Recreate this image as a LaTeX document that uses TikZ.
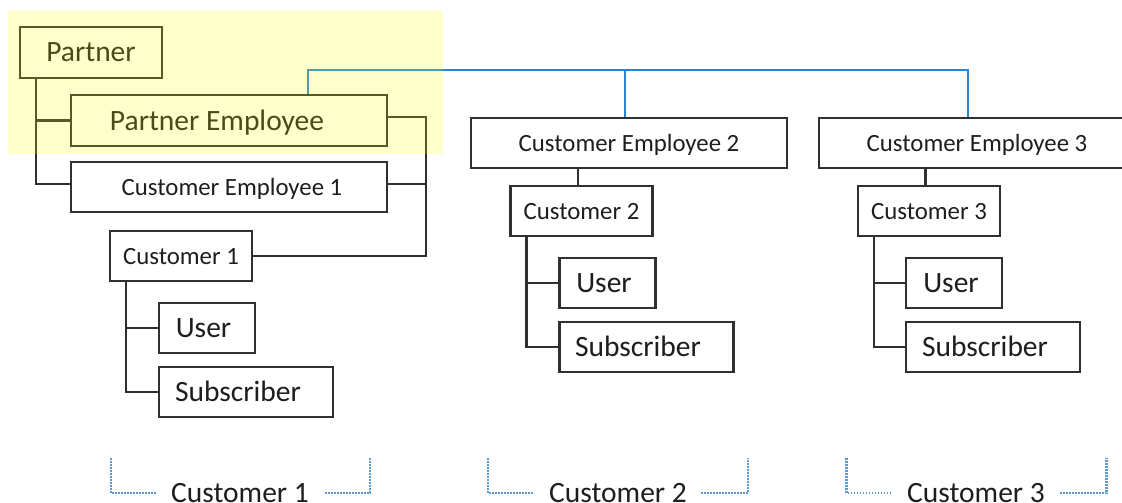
\documentclass[tikz,border=0pt]{standalone}
\usepackage{fontspec}
\setmainfont{Carlito}
\definecolor{linegray}{HTML}{303030}
\definecolor{busblue}{HTML}{2A84D0}
\definecolor{dotblue}{HTML}{5B9BD5}
\definecolor{txt}{HTML}{1E1E1E}
\definecolor{hilite}{HTML}{FFFF00}
\begin{document}
\begin{tikzpicture}[x=1pt,y=-1pt,
  box/.style={draw=linegray, line width=2.2pt, fill=white, inner sep=0pt, minimum height=50pt},
  big/.style={font=\fontsize{29.5}{34}\selectfont, text=txt, inner sep=0pt, text height=19pt, text depth=0pt},
  small/.style={font=\fontsize{24.8}{29}\selectfont, text=txt, inner sep=0pt, text height=16pt, text depth=0pt},
  conn/.style={draw=linegray, line width=2.2pt},
  bus/.style={draw=busblue, line width=2.4pt},
  bracket/.style={draw=dotblue, line width=2.2pt, dash pattern=on 1.6pt off 1.4pt},
  hl/.style={fill=hilite, fill opacity=0.2}
]
\useasboundingbox (0,0) rectangle (1122,503);
\clip (0,0) rectangle (1122,503);
\fill[white] (0,0) rectangle (1122,503);

% ---- boxes, column 1
\node[box, minimum width=142pt, minimum height=51pt, label={[big]center:Partner}] (partner) at (91,52.5) {};
\node[box, minimum width=316pt, minimum height=51pt, label={[big,xshift=-12pt]center:Partner Employee}] (pe) at (229,120.5) {};
\node[box, minimum width=316pt, label={[small,xshift=3pt]center:Customer Employee 1}] (ce1) at (229,187) {};
\node[box, minimum width=142pt, label={[small]center:Customer 1}] (c1) at (181,256) {};
\node[box, minimum width=96pt, label={[big,xshift=-3.5pt]center:User}] (u1) at (207,328) {};
\node[box, minimum width=174pt, label={[big,xshift=-8pt]center:Subscriber}] (s1) at (246,392) {};

% ---- column 2
\node[box, minimum width=316pt, label={[small]center:Customer Employee 2}] (ce2) at (629,143) {};
\node[box, minimum width=142pt, label={[small]center:Customer 2}] (c2) at (581.5,211) {};
\node[box, minimum width=96pt, label={[big,xshift=-3.5pt]center:User}] (u2) at (607.5,283) {};
\node[box, minimum width=174pt, label={[big,xshift=-8.5pt]center:Subscriber}] (s2) at (646.5,347) {};

% ---- column 3
\node[box, minimum width=316pt, label={[small]center:Customer Employee 3}] (ce3) at (977,143) {};
\node[box, minimum width=142pt, label={[small]center:Customer 3}] (c3) at (929,211) {};
\node[box, minimum width=96pt, label={[big,xshift=-3pt]center:User}] (u3) at (954,283) {};
\node[box, minimum width=174pt, label={[big,xshift=-8pt]center:Subscriber}] (s3) at (993,347) {};

% ---- connectors, column 1
\coordinate (rt) at (426,0);
\coordinate (ce1l) at ([yshift=3pt]ce1.west);
\coordinate (ce1r) at ([yshift=3pt]ce1.east);
\coordinate (per) at ([yshift=3.5pt]pe.east);
\draw[conn] ([xshift=17pt]partner.south west) |- (ce1l);
\draw[conn] ([xshift=17pt]partner.south west |- pe.west) -- (pe.west);
\draw[conn] (per) -| (rt |- c1.east) -- (c1.east);
\draw[conn] (ce1r) -- (rt |- ce1r);
\draw[conn] ([xshift=17pt]c1.south west) |- (s1.west);
\draw[conn] ([xshift=17pt]c1.south west |- u1.west) -- (u1.west);

% ---- column 2
\draw[conn] ([xshift=-3.5pt]c2.north) -- ([xshift=-3.5pt]c2.north |- ce2.south);
\draw[conn] ([xshift=17pt]c2.south west) |- (s2.west);
\draw[conn] ([xshift=17pt]c2.south west |- u2.west) -- (u2.west);

% ---- column 3
\draw[conn] ([xshift=-3.5pt]c3.north) -- ([xshift=-3.5pt]c3.north |- ce3.south);
\draw[conn] ([xshift=17pt]c3.south west) |- (s3.west);
\draw[conn] ([xshift=17pt]c3.south west |- u3.west) -- (u3.west);

% ---- blue bus
\coordinate (busy) at (0,70);
\coordinate (pet) at ([xshift=79pt]pe.north);
\coordinate (ce3t) at ([xshift=-9pt]ce3.north);
\coordinate (ce2t) at ([xshift=-4pt]ce2.north);
\draw[bus] (pet) |- (ce3t |- busy) -- (ce3t);
\draw[bus] (ce2t) -- (ce2t |- busy);

% ---- bottom labels and brackets
\node[big, anchor=base] (l1) at (240,502) {Customer 1};
\node[big, anchor=base] (l2) at (618,502) {Customer 2};
\node[big, anchor=base] (l3) at (976,502) {Customer 3};
\draw[bracket] (111,458) -- (111,493) -- (157,493);
\draw[bracket] (325,493) -- (370,493) -- (370,458);
\draw[bracket] (488,458) -- (488,493) -- (533,493);
\draw[bracket] (701,493) -- (748,493) -- (748,458);
\draw[bracket] (846.5,458) -- (846.5,493) -- (892,493);
\draw[bracket] (1060,493) -- (1106.5,493) -- (1106.5,458);

% ---- highlight overlay
\fill[hl] (8,11) rectangle (443,154);
\end{tikzpicture}
\end{document}
